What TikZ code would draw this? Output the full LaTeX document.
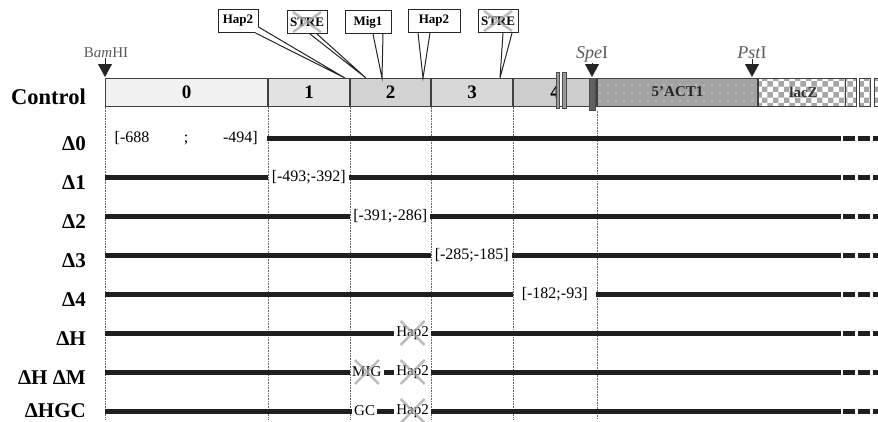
\documentclass[tikz,border=0pt]{standalone}
\usepackage{fontspec}
\setmainfont{Liberation Serif}
\usepackage{tikz}
\usetikzlibrary{arrows.meta,positioning,calc,patterns,patterns.meta}
\definecolor{pmsegA}{HTML}{F1F1F1}
\definecolor{pmsegB}{HTML}{E2E2E2}
\definecolor{pmsegC}{HTML}{D2D2D2}
\definecolor{pmsegD}{HTML}{D8D8D8}
\definecolor{pmsegE}{HTML}{CDCDCD}
\definecolor{pmact}{HTML}{A3A3A3}
\definecolor{pmsitegray}{HTML}{5A5A5A}
\newcommand{\pmcrossout}[3]{%
  \draw[pmcross] ([shift={(-#2pt,-#3pt)}]#1.center) -- ([shift={(#2pt,#3pt)}]#1.center)
    ([shift={(-#2pt,#3pt)}]#1.center) -- ([shift={(#2pt,-#3pt)}]#1.center);}
\tikzset{
  pmseg/.style={draw=black!75, line width=1pt, minimum height=28pt, inner sep=0pt,
    anchor=west, font=\fontsize{19pt}{19pt}\selectfont\bfseries},
  pmrow/.style={anchor=base east, inner sep=0pt, font=\fontsize{21pt}{21pt}\selectfont\bfseries},
  pmbar/.style={line width=5pt, draw=black!88},
  pmbarend/.style={pmbar, dash pattern=on 5pt off 3pt on 12pt off 3pt on 12pt off 2pt on 900pt},
  pmgap/.style={inner xsep=0.5pt, inner ysep=0pt, anchor=west, font=\fontsize{16pt}{16pt}\selectfont},
  pmsmall/.style={inner xsep=2pt, inner ysep=0pt, font=\fontsize{15pt}{15pt}\selectfont},
  pmsite/.style={anchor=base, inner sep=1pt, text=pmsitegray, font=\fontsize{18pt}{18pt}\selectfont},
  pmsitearrow/.style={-{Triangle[width=14pt,length=13pt]}, line width=1pt, draw=black!85},
  pmcall/.style={draw=black!85, fill=white, line width=1pt, minimum height=23pt, inner sep=2pt,
    font=\fontsize{13pt}{13pt}\selectfont\bfseries},
  pmptr/.style={draw=black!85, fill=white, line width=1pt},
  pmguide/.style={densely dotted, draw=black!60, line width=0.6pt},
  pmcross/.style={draw=black!35, line width=2.5pt, opacity=0.75}
}
\begin{document}
\begin{tikzpicture}[x=1pt, y=-1pt]
  \useasboundingbox (0,0) rectangle (878,421);
  % control construct
  \node[pmseg, fill=pmsegA, minimum width=162pt] (s0) at (105,92) {0};
  \node[pmseg, fill=pmsegB, minimum width=81pt] (s1) at (s0.east) {1};
  \node[pmseg, fill=pmsegC, minimum width=80pt] (s2) at (s1.east) {2};
  \node[pmseg, fill=pmsegD, minimum width=81pt] (s3) at (s2.east) {3};
  \node[pmseg, fill=pmsegE, minimum width=83pt] (s4) at (s3.east) {4};
  \node[pmseg, preaction={fill=pmact}, pattern={Dots[distance=8pt,radius=0.7pt]}, pattern color=white,
    minimum width=160pt, text=black!85, font=\fontsize{15pt}{15pt}\selectfont\bfseries] (act) at (s4.east) {5'ACT1};
  \node[pmseg, preaction={fill=white}, pattern=checkerboard, pattern color=black!35,
    minimum width=90pt, text=black!80, font=\fontsize{15pt}{15pt}\selectfont\bfseries] (lacz) at (act.east) {lacZ};
  \node[pmseg, preaction={fill=white}, pattern=checkerboard, pattern color=black!35, minimum width=11pt] (k1) at (845,92) {};
  \node[pmseg, preaction={fill=white}, pattern=checkerboard, pattern color=black!35, minimum width=11pt] (k2) at (859,92) {};
  \node[pmseg, preaction={fill=white}, pattern=checkerboard, pattern color=black!35, minimum width=11pt] (k3) at (874,92) {};
  % break mark and SpeI stripe
  \fill[white] (559,78) rectangle (562,106);
  \filldraw[fill=black!40, draw=black!70, line width=0.7pt] (556,72) rectangle (559,108);
  \filldraw[fill=black!40, draw=black!70, line width=0.7pt] (562,72) rectangle (566,108);
  \filldraw[fill=black!62, draw=black!70, line width=0.7pt] (589,78) rectangle (595,110);
  % guide lines
  \coordinate (bot) at (0,419);
  \draw[pmguide] (s0.south west) -- (s0.south west |- bot);
  \draw[pmguide] (s1.south west) -- (s1.south west |- bot);
  \draw[pmguide] (s2.south west) -- (s2.south west |- bot);
  \draw[pmguide] (s3.south west) -- (s3.south west |- bot);
  \draw[pmguide] (s4.south west) -- (s4.south west |- bot);
  \draw[pmguide] ([yshift=-4pt]act.south west) -- (act.south west |- bot);
  % restriction sites
  \node[pmsite, font=\fontsize{15pt}{15pt}\selectfont] (bam) at (106,57) {B\textit{am}HI};
  \node[pmsite] (spe) at (592,58) {\textit{Spe}I};
  \node[pmsite] (pst) at (752,58) {\textit{Pst}I};
  \coordinate (bamT) at (105,77);
  \coordinate (speT) at (592,77);
  \coordinate (pstT) at (752,77);
  \draw[pmsitearrow] (bam.south -| bamT) -- (bamT);
  \draw[pmsitearrow] (spe.south -| speT) -- (speT);
  \draw[pmsitearrow] (pst.south -| pstT) -- (pstT);
  % binding sites
  \node[pmcall, minimum width=40pt] (hapA) at (238,21) {Hap2};
  \node[pmcall, minimum width=40pt] (streA) at (307,22) {STRE};
  \node[pmcall, minimum width=46pt] (migA) at (368,22) {Mig1};
  \node[pmcall, minimum width=52pt] (hapB) at (434,21) {Hap2};
  \node[pmcall, minimum width=40pt] (streB) at (498,21) {STRE};
  \coordinate (tHapA) at (345,78);
  \coordinate (tStreA) at (366,78);
  \coordinate (tMig) at (382,78);
  \coordinate (tHapB) at (423,78);
  \coordinate (tStreB) at (500,78);
  \filldraw[pmptr] ([yshift=6pt]hapA.south east) -- (tHapA) -- ([xshift=-3pt]hapA.south east);
  \filldraw[pmptr] ([xshift=3pt]streA.south) -- (tStreA) -- ([xshift=10pt]streA.south);
  \filldraw[pmptr] ([xshift=5pt]migA.south) -- (tMig) -- ([xshift=15pt]migA.south);
  \filldraw[pmptr] ([xshift=-16pt]hapB.south) -- (tHapB) -- ([xshift=-4pt]hapB.south);
  \filldraw[pmptr] ([xshift=5pt]streB.south) -- (tStreB) -- ([xshift=14pt]streB.south);
  \pmcrossout{streA}{14}{10}
  \pmcrossout{streB}{14}{10}
  % deletion rows
  \node[pmrow, font=\fontsize{22.5pt}{22.5pt}\selectfont\bfseries] (ctl) at (86,104) {Control};
  \node[pmrow] (d0) at (86,150) {Δ0};
  \node[pmrow] (d1) at (86,189) {Δ1};
  \node[pmrow] (d2) at (86,228) {Δ2};
  \node[pmrow] (d3) at (86,267) {Δ3};
  \node[pmrow] (d4) at (86,306) {Δ4};
  \node[pmrow] (d5) at (86,345) {ΔH};
  \node[pmrow] (d6) at (86,384) {ΔH ΔM};
  \node[pmrow] (d7) at (86,417) {ΔHGC};
  \coordinate (r0e) at (878,138);
  \coordinate (r1s) at (105,177); \coordinate (r1e) at (878,177);
  \coordinate (r2s) at (105,216); \coordinate (r2e) at (878,216);
  \coordinate (r3s) at (105,255); \coordinate (r3e) at (878,255);
  \coordinate (r4s) at (105,294); \coordinate (r4e) at (878,294);
  \coordinate (r5s) at (105,333); \coordinate (r5e) at (878,333);
  \coordinate (r6s) at (105,372); \coordinate (r6e) at (878,372);
  \coordinate (r7s) at (105,411); \coordinate (r7e) at (878,411);
  \node[pmgap, minimum width=162pt] (g0) at (105,138) {\hbox to 143pt{[-688\hfil;\hfil-494]}};
  \node[pmgap, minimum width=81pt] (g1) at (s1.west |- r1s) {[-493;-392]};
  \node[pmgap, minimum width=80pt] (g2) at (s2.west |- r2s) {[-391;-286]};
  \node[pmgap, minimum width=81pt] (g3) at (s3.west |- r3s) {[-285;-185]};
  \node[pmgap, minimum width=83pt] (g4) at (s4.west |- r4s) {[-182;-93]};
  \node[pmsmall, anchor=east] (h5) at (s3.west |- r5s) {Hap2};
  \node[pmsmall, anchor=west] (m6) at (s2.west |- r6s) {MIG};
  \node[pmsmall, anchor=east] (h6) at (s3.west |- r6s) {Hap2};
  \node[pmsmall, anchor=west, xshift=2pt] (c7) at (s2.west |- r7s) {GC};
  \node[pmsmall, anchor=east] (h7) at (s3.west |- r7s) {Hap2};
  \draw[pmbarend] (r0e) -- (g0.east);
  \draw[pmbar] (r1s) -- (g1.west);
  \draw[pmbarend] (r1e) -- (g1.east);
  \draw[pmbar] (r2s) -- (g2.west);
  \draw[pmbarend] (r2e) -- (g2.east);
  \draw[pmbar] (r3s) -- (g3.west);
  \draw[pmbarend] (r3e) -- (g3.east);
  \draw[pmbar] (r4s) -- (g4.west);
  \draw[pmbarend] (r4e) -- (g4.east);
  \draw[pmbar] (r5s) -- (h5.west);
  \draw[pmbarend] (r5e) -- (h5.east);
  \draw[pmbar] (r6s) -- (m6.west);
  \draw[pmbar] (m6.east) -- (h6.west);
  \draw[pmbarend] (r6e) -- (h6.east);
  \draw[pmbar] (r7s) -- (c7.west);
  \draw[pmbar] (c7.east) -- (h7.west);
  \draw[pmbarend] (r7e) -- (h7.east);
  \pmcrossout{h5}{12}{12}
  \pmcrossout{m6}{12}{12}
  \pmcrossout{h6}{12}{12}
  \pmcrossout{h7}{12}{12}
\end{tikzpicture}
\end{document}
